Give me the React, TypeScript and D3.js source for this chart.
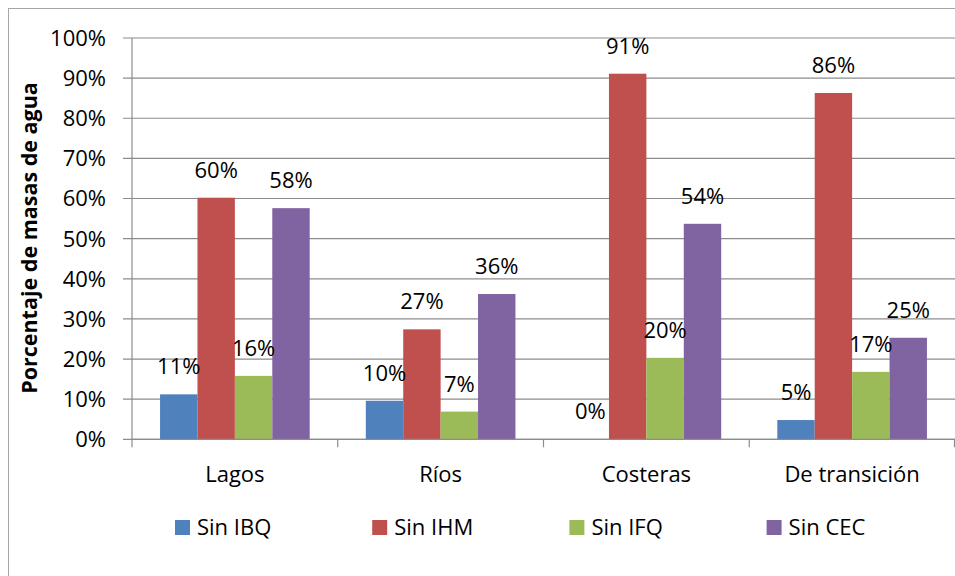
import React from "react";
import * as d3 from "d3";

const categories = ["Lagos", "Ríos", "Costeras", "De transición"];
const seriesNames = ["Sin IBQ", "Sin IHM", "Sin IFQ", "Sin CEC"];
const seriesColors = ["#4F81BD", "#C0504D", "#9BBB59", "#8064A2"];
const sinIBQ = [0.112, 0.096, 0.0, 0.048];
const sinIHM = [0.602, 0.274, 0.911, 0.863];
const sinIFQ = [0.158, 0.069, 0.203, 0.168];
const sinCEC = [0.576, 0.362, 0.537, 0.253];
const yTicks = [0, 0.1, 0.2, 0.3, 0.4, 0.5, 0.6, 0.7, 0.8, 0.9, 1.0];

const series = [sinIBQ, sinIHM, sinIFQ, sinCEC];

const W = 955;
const H = 576;
const FONT = "'Open Sans', sans-serif";
const FS = 22;

export default function App() {
  const left = 132;
  const right = 955;
  const top = 38;
  const bottom = 439.3;

  const x = d3.scaleBand<string>().domain(categories).range([left, right]).paddingInner(0).paddingOuter(0);
  const y = d3.scaleLinear().domain([0, 1]).range([bottom, top]);
  const bw = x.bandwidth();
  const inner = d3
    .scaleBand<number>()
    .domain(d3.range(series.length))
    .range([bw * (0.75 / 5.5), bw * (4.75 / 5.5)])
    .padding(0);

  const fmt = d3.format(".0%");
  const grid = "#8c8c8c";

  return (
    <svg
      width={W}
      height={H}
      style={{ position: "absolute", left: 0, top: 0, background: "#fff" }}
    >
      <rect x={8.5} y={8.5} width={1000} height={1000} fill="#fff" stroke="#a6a6a6" strokeWidth={1} />
      {yTicks.map((t) => (
        <g key={t}>
          <line x1={left - 9} x2={right} y1={y(t)} y2={y(t)} stroke={grid} strokeWidth={1.2} />
          <text
            x={106}
            y={y(t)}
            dy="0.36em"
            textAnchor="end"
            fontFamily={FONT}
            fontSize={FS}
            fill="#000"
          >
            {fmt(t)}
          </text>
        </g>
      ))}
      <line x1={left} x2={left} y1={top} y2={bottom} stroke={grid} strokeWidth={1.2} />
      {categories.map((c) => (
        <line key={c} x1={x(c)!} x2={x(c)!} y1={bottom} y2={bottom + 8} stroke={grid} strokeWidth={1.2} />
      ))}
      <line x1={right - 0.5} x2={right - 0.5} y1={bottom} y2={bottom + 8} stroke={grid} strokeWidth={1.2} />
      {categories.map((c, ci) => (
        <g key={c} transform={`translate(${x(c)},0)`}>
          {series.map((s, si) => (
            <rect
              key={si}
              x={inner(si)!}
              y={y(s[ci])}
              width={inner.bandwidth()}
              height={bottom - y(s[ci])}
              fill={seriesColors[si]}
            />
          ))}
          {series.map((s, si) => (
            <text
              key={"l" + si}
              x={inner(si)! + inner.bandwidth() / 2}
              y={y(s[ci]) - 20}
              textAnchor="middle"
              fontFamily={FONT}
              fontSize={FS}
              fill="#000"
            >
              {fmt(s[ci])}
            </text>
          ))}
          <text
            x={bw / 2}
            y={481.5}
            textAnchor="middle"
            fontFamily={FONT}
            fontSize={FS}
            fill="#000"
          >
            {c}
          </text>
        </g>
      ))}
      <line x1={left} x2={right} y1={bottom} y2={bottom} stroke={grid} strokeWidth={1.2} />
      <text
        transform={`translate(37,238) rotate(-90)`}
        textAnchor="middle"
        fontFamily={FONT}
        fontWeight="bold"
        fontSize={21.5}
        fill="#000"
      >
        Porcentaje de masas de agua
      </text>
      {seriesNames.map((n, i) => {
        const lx = 175 + i * 197.2;
        return (
          <g key={n}>
            <rect x={lx} y={520} width={15} height={15} fill={seriesColors[i]} />
            <text x={lx + 22} y={535} fontFamily={FONT} fontSize={FS} fill="#000">
              {n}
            </text>
          </g>
        );
      })}
    </svg>
  );
}
